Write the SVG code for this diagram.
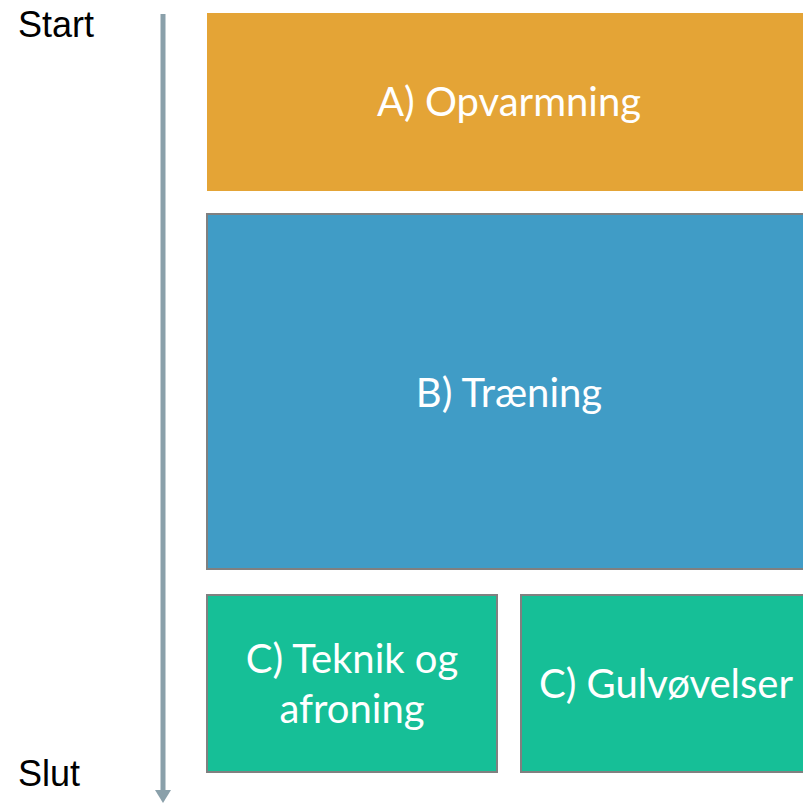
<svg xmlns="http://www.w3.org/2000/svg" width="803" height="803" viewBox="0 0 803 803">
  <style>
    .box { stroke: #808080; stroke-width: 2; }
    .lbl { font-family: "Lato", "Open Sans", sans-serif; font-size: 40px; fill: #ffffff; text-anchor: middle; }
    .side { font-family: "Liberation Sans", Arial, sans-serif; font-size: 36px; fill: #000000; }
  </style>
  <rect width="803" height="803" fill="#ffffff"/>

  <!-- time axis running from start to end -->
  <g id="timeline">
    <line x1="163" y1="14" x2="163" y2="792" stroke="#8aa0aa" stroke-width="5"/>
    <polygon points="155,790 171,790 163,803" fill="#8aa0aa"/>
    <text class="side" x="18" y="37">Start</text>
    <text class="side" x="18" y="786">Slut</text>
  </g>

  <g id="warmup">
    <rect x="207" y="13" width="600" height="178" fill="#e4a436"/>
    <text class="lbl" x="509" y="116">A) Opvarmning</text>
  </g>

  <g id="training">
    <rect class="box" x="207" y="214" width="600" height="355" fill="#409cc6"/>
    <text class="lbl" x="509" y="407">B) Træning</text>
  </g>

  <g id="technique">
    <rect class="box" x="207" y="595" width="290" height="177" fill="#16bf97"/>
    <text class="lbl" x="352" y="673">C) Teknik og</text>
    <text class="lbl" x="352" y="723">afroning</text>
  </g>

  <g id="floor">
    <rect class="box" x="521" y="595" width="290" height="177" fill="#16bf97"/>
    <text class="lbl" x="666" y="698">C) Gulvøvelser</text>
  </g>
</svg>
